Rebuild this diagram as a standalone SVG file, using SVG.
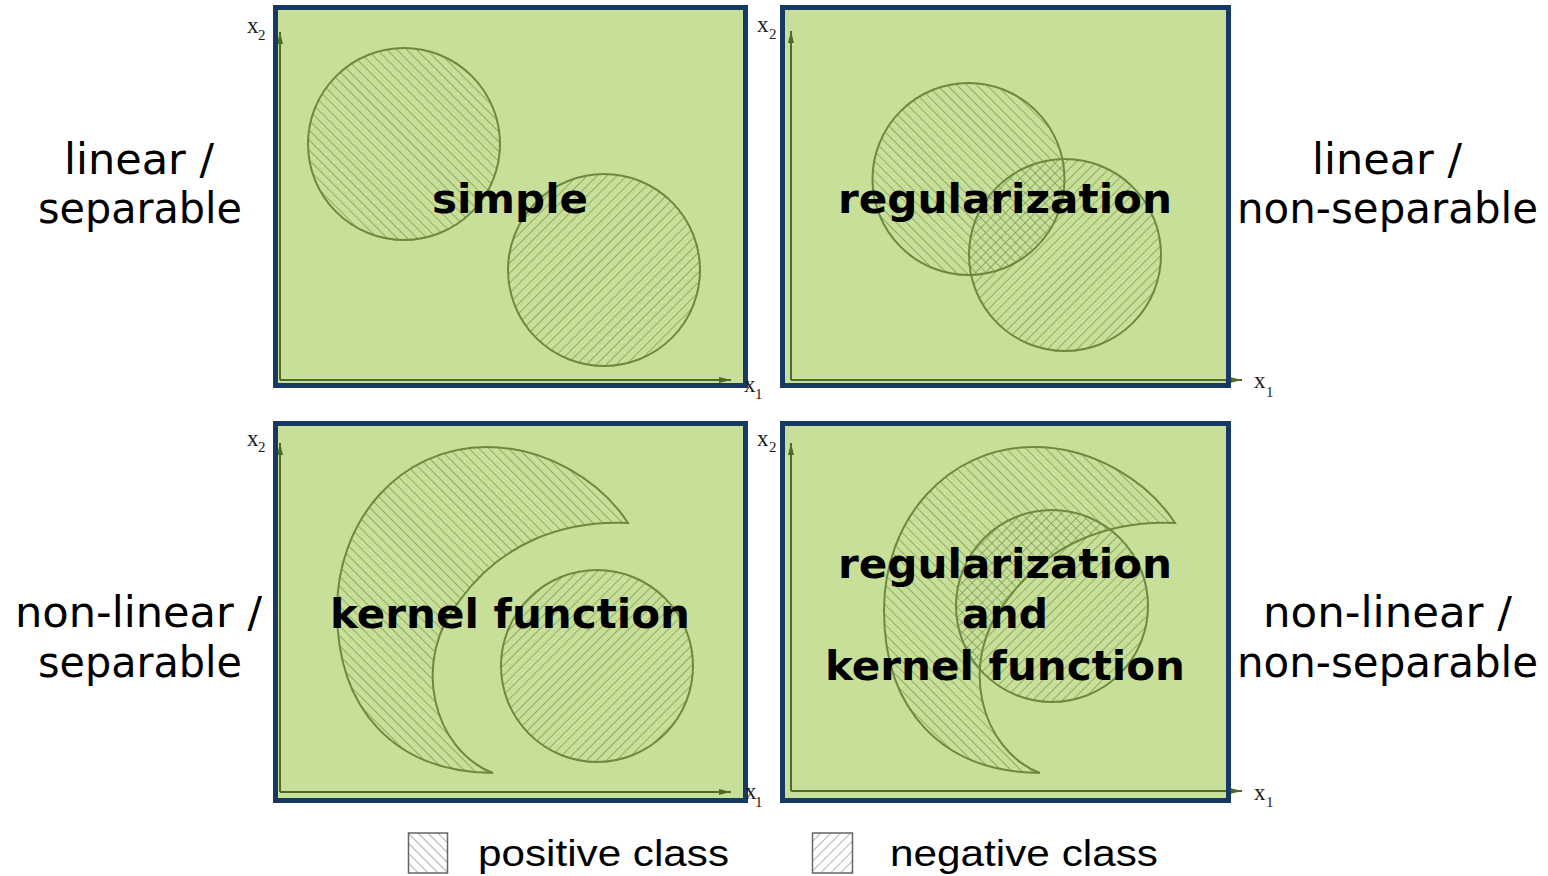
<svg xmlns="http://www.w3.org/2000/svg" width="1548" height="876" viewBox="0 0 1548 876">
<style>
.panel{fill:#c8df9a;}
.border{fill:none;stroke:#173a64;stroke-width:5;}
.shape{stroke:#6b8a40;stroke-width:2;}
.pos{fill:url(#hPos);}
.neg{fill:url(#hNeg);}
.axis{stroke:#4f6b28;stroke-width:2;fill:none;}
.side{font-family:"DejaVu Sans",Verdana,sans-serif;font-size:42px;fill:#000;text-anchor:middle;}
.bold{font-family:"DejaVu Sans",Verdana,sans-serif;font-size:40px;font-weight:bold;fill:#000;text-anchor:middle;}
.ax{font-family:"Liberation Serif","Times New Roman",serif;font-size:23px;fill:#1a1a1a;}
.sub{font-family:"Liberation Serif","Times New Roman",serif;font-size:15px;fill:#1a1a1a;}
.leg{font-family:"Liberation Sans",Arial,sans-serif;font-size:37px;fill:#000;}
.legbox{stroke:#666;stroke-width:1.5;}
</style>
<defs>
<pattern id="hPos" patternUnits="userSpaceOnUse" width="7" height="7" patternTransform="rotate(-45)">
<line x1="0" y1="0" x2="0" y2="7" stroke="#6a8a42" stroke-width="1.2"/>
</pattern>
<pattern id="hNeg" patternUnits="userSpaceOnUse" width="7" height="7" patternTransform="rotate(45)">
<line x1="0" y1="0" x2="0" y2="7" stroke="#6a8a42" stroke-width="1.2"/>
</pattern>
<pattern id="lPos" patternUnits="userSpaceOnUse" width="7" height="7" patternTransform="rotate(-45)">
<line x1="0" y1="0" x2="0" y2="7" stroke="#666" stroke-width="1"/>
</pattern>
<pattern id="lNeg" patternUnits="userSpaceOnUse" width="7" height="7" patternTransform="rotate(45)">
<line x1="0" y1="0" x2="0" y2="7" stroke="#666" stroke-width="1"/>
</pattern>
<marker id="arrH" viewBox="0 0 12 6" refX="12" refY="3" markerWidth="12" markerHeight="6" markerUnits="userSpaceOnUse" orient="auto">
<path d="M0,0 L12,3 L0,6 Z" fill="#4f6b28"/>
</marker>
<path id="crescent" d="M 628 523 C 600 480, 545 447, 487 447 C 400 447, 337 520, 337 610 C 337 710, 395 772, 493 773 C 433 750, 410 660, 460 600 C 500 545, 560 520, 628 523 Z"/>
</defs>

<g id="panel-simple">
<rect class="panel" x="275.5" y="7.5" width="470" height="378"/>
<circle class="shape pos" cx="404" cy="144" r="96"/>
<circle class="shape neg" cx="604" cy="270" r="96"/>
<line class="axis" x1="280" y1="380" x2="280" y2="32" marker-end="url(#arrH)"/>
<line class="axis" x1="280" y1="380" x2="731" y2="380" marker-end="url(#arrH)"/>
<rect class="border" x="275.5" y="7.5" width="470" height="378"/>
<text class="ax" x="247" y="33">x</text><text class="sub" x="258" y="40">2</text>
<text class="ax" x="744" y="392">x</text><text class="sub" x="755" y="399">1</text>
<text class="bold" x="510" y="213" textLength="156" lengthAdjust="spacingAndGlyphs">simple</text>
</g>

<g id="panel-regularization">
<rect class="panel" x="782.5" y="7.5" width="446" height="378"/>
<circle class="shape pos" cx="968.5" cy="179" r="96"/>
<circle class="shape neg" cx="1065" cy="255" r="96"/>
<line class="axis" x1="791" y1="380" x2="791" y2="31" marker-end="url(#arrH)"/>
<line class="axis" x1="791" y1="380" x2="1242" y2="380" marker-end="url(#arrH)"/>
<rect class="border" x="782.5" y="7.5" width="446" height="378"/>
<text class="ax" x="757" y="32">x</text><text class="sub" x="769" y="39">2</text>
<text class="ax" x="1254" y="388">x</text><text class="sub" x="1266" y="397">1</text>
<text class="bold" x="1005" y="213" textLength="334" lengthAdjust="spacingAndGlyphs">regularization</text>
</g>

<g id="panel-kernel">
<rect class="panel" x="275.5" y="423.5" width="470" height="377"/>
<use href="#crescent" class="shape pos"/>
<circle class="shape neg" cx="597" cy="666" r="96"/>
<line class="axis" x1="280" y1="792" x2="280" y2="443" marker-end="url(#arrH)"/>
<line class="axis" x1="280" y1="792" x2="731" y2="792" marker-end="url(#arrH)"/>
<rect class="border" x="275.5" y="423.5" width="470" height="377"/>
<text class="ax" x="247" y="446">x</text><text class="sub" x="258" y="452">2</text>
<text class="ax" x="745" y="799">x</text><text class="sub" x="755" y="807">1</text>
<text class="bold" x="510" y="628" textLength="360" lengthAdjust="spacingAndGlyphs">kernel function</text>
</g>

<g id="panel-both">
<rect class="panel" x="782.5" y="423.5" width="446" height="377"/>
<circle class="shape neg" cx="1052" cy="606" r="96"/>
<use href="#crescent" class="shape pos" transform="translate(547,0)"/>
<line class="axis" x1="791" y1="791" x2="791" y2="443" marker-end="url(#arrH)"/>
<line class="axis" x1="791" y1="791" x2="1242" y2="791" marker-end="url(#arrH)"/>
<rect class="border" x="782.5" y="423.5" width="446" height="377"/>
<text class="ax" x="757" y="446">x</text><text class="sub" x="769" y="452">2</text>
<text class="ax" x="1254" y="800">x</text><text class="sub" x="1266" y="807">1</text>
<text class="bold" x="1005" y="578" textLength="334" lengthAdjust="spacingAndGlyphs">regularization</text>
<text class="bold" x="1005" y="628" textLength="86" lengthAdjust="spacingAndGlyphs">and</text>
<text class="bold" x="1005" y="680" textLength="360" lengthAdjust="spacingAndGlyphs">kernel function</text>
</g>

<g id="connectors"></g>

<g id="label-tl">
<text class="side" x="139" y="174" textLength="150" lengthAdjust="spacingAndGlyphs">linear /</text>
<text class="side" x="140" y="223" textLength="204" lengthAdjust="spacingAndGlyphs">separable</text>
</g>
<g id="label-tr">
<text class="side" x="1387" y="174" textLength="150" lengthAdjust="spacingAndGlyphs">linear /</text>
<text class="side" x="1387.5" y="223" textLength="301" lengthAdjust="spacingAndGlyphs">non-separable</text>
</g>
<g id="label-bl">
<text class="side" x="138.5" y="627" textLength="247" lengthAdjust="spacingAndGlyphs">non-linear /</text>
<text class="side" x="140" y="677" textLength="204" lengthAdjust="spacingAndGlyphs">separable</text>
</g>
<g id="label-br">
<text class="side" x="1387.5" y="627" textLength="249" lengthAdjust="spacingAndGlyphs">non-linear /</text>
<text class="side" x="1387.5" y="677" textLength="301" lengthAdjust="spacingAndGlyphs">non-separable</text>
</g>

<g id="legend-positive">
<rect x="408.5" y="833" width="39" height="40" fill="url(#lPos)" class="legbox"/>
<text class="leg" x="478" y="866" textLength="251" lengthAdjust="spacingAndGlyphs">positive class</text>
</g>
<g id="legend-negative">
<rect x="812.5" y="833" width="40" height="40" fill="url(#lNeg)" class="legbox"/>
<text class="leg" x="890" y="866" textLength="268" lengthAdjust="spacingAndGlyphs">negative class</text>
</g>
</svg>
